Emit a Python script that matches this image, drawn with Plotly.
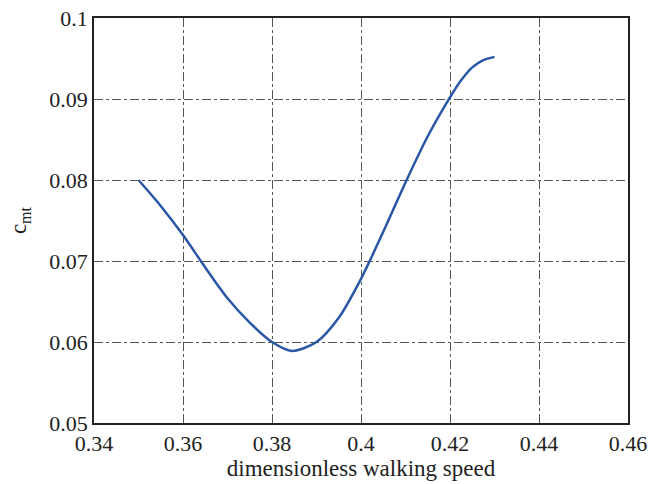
import plotly.graph_objects as go

speed = [0.350, 0.355, 0.360, 0.365, 0.370, 0.375, 0.380, 0.3845, 0.390,
         0.395, 0.400, 0.405, 0.410, 0.415, 0.420, 0.4225, 0.425, 0.4275, 0.430]
cmt = [0.0800, 0.0768, 0.0732, 0.0692, 0.0654, 0.0624, 0.0600, 0.0589, 0.0600,
       0.0630, 0.0678, 0.0736, 0.0797, 0.0854, 0.0902, 0.0923, 0.0939, 0.0948, 0.0952]

x_ticks = [0.34, 0.36, 0.38, 0.40, 0.42, 0.44, 0.46]
x_labels = ["0.34", "0.36", "0.38", "0.4", "0.42", "0.44", "0.46"]
y_ticks = [0.05, 0.06, 0.07, 0.08, 0.09, 0.10]
y_labels = ["0.05", "0.06", "0.07", "0.08", "0.09", "0.1"]

fig = go.Figure(go.Scatter(x=speed, y=cmt, mode="lines",
                           line=dict(color="#2a56a6", width=2.5, shape="spline",
                                     smoothing=0.8)))

font = dict(family="Liberation Serif, Times New Roman, serif", size=22, color="#222")
axis_common = dict(showline=True, linecolor="#222", linewidth=1.5, mirror=True,
                   showgrid=True, gridcolor="#555", gridwidth=1, griddash="dashdot",
                   zeroline=False, ticks="", tickfont=font, automargin=False)

fig.update_layout(
    width=648, height=484,
    margin=dict(l=94, r=20, t=18, b=61, autoexpand=False),
    paper_bgcolor="white", plot_bgcolor="white",
    showlegend=False, font=font,
    xaxis=dict(range=[0.34, 0.46], tickvals=x_ticks, ticktext=x_labels,
               title=dict(text="dimensionless walking speed",
                          font=dict(family=font["family"], size=23, color="#222"),
                          standoff=4),
               **axis_common),
    yaxis=dict(range=[0.05, 0.10], tickvals=y_ticks, ticktext=y_labels,
               title=dict(text="c<sub>mt</sub>",
                          font=dict(family=font["family"], size=23, color="#222"),
                          standoff=16),
               **axis_common),
)

fig.write_html("out.html", config={"displayModeBar": False},
               post_script="document.body.style.margin='0';document.body.style.overflow='hidden';")
